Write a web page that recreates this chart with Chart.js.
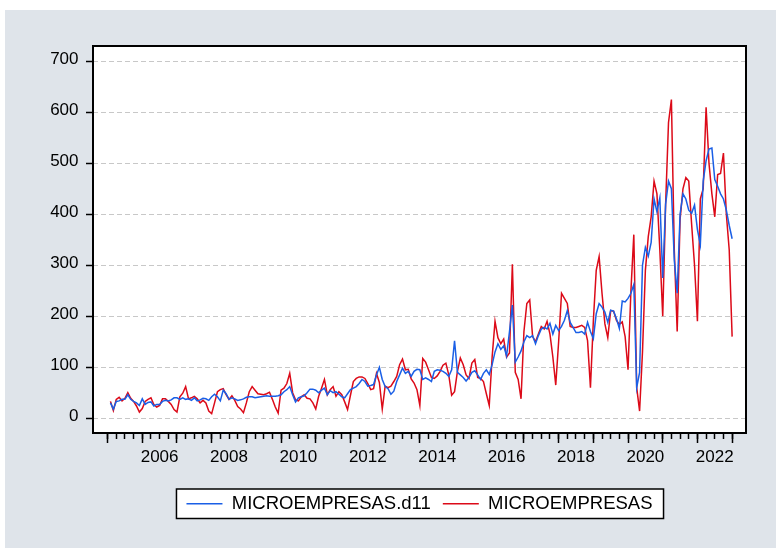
<!DOCTYPE html>
<html>
<head>
<meta charset="utf-8">
<script src="https://cdn.jsdelivr.net/npm/chart.js@4.4.1/dist/chart.umd.min.js"></script>
<style>
  html, body { margin: 0; padding: 0; background: #ffffff; }
  canvas { display: block; }
</style>
</head>
<body>
<canvas id="grafico" width="776" height="548"></canvas>
<script>
// serie mensual 2005M01 .. 2022M12
const startYear = 2005;
const yearLabels = ['2006', '2008', '2010', '2012', '2014', '2016', '2018', '2020', '2022'];
const yTicks = [0, 100, 200, 300, 400, 500, 600, 700];

// MICROEMPRESAS.d11 (desestacionalizada)
const microD11 = [
  30, 18, 33, 34, 37, 37, 46, 37, 33, 30, 25, 38,
  27, 31, 32, 24, 27, 27, 33, 35, 34, 36, 40, 40,
  37, 40, 37, 38, 35, 40, 34, 36, 39, 38, 35, 42,
  47, 42, 34, 55, 48, 37, 40, 38, 35, 36, 38, 41,
  42, 42, 40, 41, 42, 43, 44, 43, 43, 43, 44, 46,
  52, 56, 62, 46, 32, 40, 42, 44, 50, 57, 57, 55,
  50, 55, 59, 46, 54, 50, 52, 47, 42, 40, 48, 56,
  59, 62, 68, 76, 72, 63, 64, 66, 85, 100, 76, 62,
  58, 47, 53, 72, 85, 98, 88, 92, 82, 92, 96, 95,
  76, 79, 76, 72, 92, 95, 94, 92, 88, 82, 95, 152,
  90, 85, 80, 73, 80, 90, 93, 85, 76, 88, 95, 86,
  105, 130, 146, 135, 142, 122, 170, 222, 110, 120, 132, 150,
  162, 158, 162, 146, 162, 175, 178, 175, 186, 165, 182, 172,
  180, 192, 211, 188, 178, 168, 168, 170, 165, 188, 170, 156,
  205, 225, 218, 208, 188, 212, 210, 195, 176, 230, 228, 235,
  245, 262, 60, 90, 300, 335, 318, 345, 430, 405, 432, 275,
  420, 465, 450, 310, 245, 400, 440, 430, 408, 402, 418, 370,
  340, 465, 505, 528, 530, 468, 455, 440, 430, 408, 378, 352
];

// MICROEMPRESAS (original)
const micro = [
  33, 15, 37, 41, 34, 39, 50, 39, 33, 24, 12, 19,
  33, 37, 40, 27, 22, 25, 38, 38, 33, 27, 17, 12,
  42, 49, 62, 38, 40, 43, 38, 30, 35, 30, 14, 9,
  30, 52, 56, 58, 46, 37, 44, 35, 23, 18, 11, 30,
  52, 62, 55, 48, 47, 46, 48, 51, 37, 22, 10, 55,
  59, 68, 88, 50, 36, 34, 42, 46, 39, 38, 30, 18,
  43, 59, 76, 46, 56, 62, 43, 52, 46, 32, 17, 45,
  72, 78, 81, 81, 78, 68, 56, 58, 88, 70, 18, 63,
  60, 63, 72, 82, 105, 116, 95, 96, 77, 69, 56, 25,
  117, 110, 95, 80, 78, 83, 92, 104, 108, 85, 45, 52,
  92, 118, 105, 85, 78, 108, 115, 80, 78, 72, 48, 25,
  120, 190, 158, 146, 155, 120, 128, 302, 90, 76, 38, 170,
  225, 232, 160, 150, 165, 180, 175, 190, 165, 120, 65, 150,
  245, 235, 225, 180, 178, 178, 180, 182, 178, 152, 60, 190,
  290, 317, 245, 185, 158, 211, 210, 192, 184, 189, 160, 95,
  250, 360, 60, 14, 130, 290, 356, 395, 465, 440, 330, 200,
  420, 580, 625, 330, 170, 390, 450, 472, 465, 380, 300, 190,
  430, 450, 610, 500, 440, 395, 478, 480, 520, 400, 330, 160
];

// each month is drawn at the end of its period (EViews style)
const fechas = micro.map((_, i) => startYear + (i + 1) / 12);
const lastYear = startYear + micro.length / 12;

const xMin = 2004.58, xMax = 2023.40;
const yMin = -29, yMax = 730;
const fuente = 'Liberation Sans, Arial, sans-serif';

function serie(valores) {
  return valores.map((v, i) => ({ x: fechas[i], y: v }));
}

// fondo gris, area blanca, marco y recuadro de la leyenda
const marco = {
  id: 'marco',
  beforeDraw(chart) {
    const { ctx, chartArea: a } = chart;
    ctx.save();
    ctx.fillStyle = '#ffffff';
    ctx.fillRect(0, 0, chart.width, chart.height);
    ctx.fillStyle = '#dfe4ea';
    ctx.fillRect(5, 10, chart.width - 5, chart.height - 10);
    ctx.fillStyle = '#ffffff';
    ctx.fillRect(a.left, a.top, a.right - a.left, a.bottom - a.top);
    const hb = chart.legend.legendHitBoxes;
    if (hb && hb.length) {
      const b = cajaLeyenda(hb);
      ctx.fillRect(b.x1, b.y1, b.x2 - b.x1, b.y2 - b.y1);
    }
    ctx.restore();
  },
  afterDraw(chart) {
    const { ctx, chartArea: a } = chart;
    ctx.save();
    ctx.strokeStyle = '#000000';
    ctx.lineWidth = 2;
    ctx.strokeRect(a.left, a.top, a.right - a.left, a.bottom - a.top);
    const hb = chart.legend.legendHitBoxes;
    if (hb && hb.length) {
      const b = cajaLeyenda(hb);
      ctx.lineWidth = 1.5;
      ctx.strokeRect(b.x1, b.y1, b.x2 - b.x1, b.y2 - b.y1);
    }
    ctx.restore();
  }
};

function cajaLeyenda(hb) {
  const last = hb[hb.length - 1];
  return {
    x1: hb[0].left - 10,
    x2: last.left + last.width + 11,
    y1: hb[0].top - 5.5,
    y2: hb[0].top + hb[0].height + 5.5
  };
}

const ctx = document.getElementById('grafico').getContext('2d');
const grafico = new Chart(ctx, {
  type: 'line',
  data: {
    datasets: [
      {
        label: 'MICROEMPRESAS.d11',
        data: serie(microD11),
        borderColor: '#1a5fe6',
        backgroundColor: '#1a5fe6',
        borderWidth: 1.5,
        pointRadius: 0,
        tension: 0
      },
      {
        label: 'MICROEMPRESAS',
        data: serie(micro),
        borderColor: '#dc0a18',
        backgroundColor: '#dc0a18',
        borderWidth: 1.5,
        pointRadius: 0,
        tension: 0
      }
    ]
  },
  options: {
    responsive: false,
    animation: false,
    events: [],
    layout: {
      padding: { left: 0, top: 46, right: 30, bottom: 25 }
    },
    scales: {
      y: {
        type: 'linear',
        min: yMin,
        max: yMax,
        afterBuildTicks: (s) => { s.ticks = yTicks.map(v => ({ value: v })); },
        afterFit: (s) => { s.width = 93; },
        border: { display: false, dash: [5, 3] },
        grid: {
          color: '#c8c8c8',
          lineWidth: 1,
          tickColor: '#000000',
          tickLength: 7,
          tickWidth: 1.5
        },
        ticks: {
          color: '#000000',
          padding: 7.5,
          labelOffset: -2,
          font: { family: fuente, size: 17 }
        }
      },
      // marcas trimestrales
      xq: {
        type: 'linear',
        position: 'bottom',
        weight: 0,
        min: xMin,
        max: xMax,
        afterBuildTicks: (s) => {
          const t = [];
          for (let q = 0; q <= (lastYear - startYear) * 4; q++) t.push({ value: startYear + q / 4 });
          s.ticks = t;
        },
        afterFit: (s) => { s.height = 0; },
        border: { display: false },
        grid: { drawOnChartArea: false, tickLength: 6, tickColor: '#000000', tickWidth: 1.5 },
        ticks: { display: false }
      },
      // marcas anuales
      xa: {
        type: 'linear',
        position: 'bottom',
        weight: 1,
        min: xMin,
        max: xMax,
        afterBuildTicks: (s) => {
          const t = [];
          for (let y = startYear; y <= lastYear; y++) t.push({ value: y });
          s.ticks = t;
        },
        afterFit: (s) => { s.height = 0; },
        border: { display: false },
        grid: { drawOnChartArea: false, tickLength: 10, tickColor: '#000000', tickWidth: 1.5 },
        ticks: { display: false }
      },
      // etiquetas de los años, centradas en el año
      x: {
        type: 'linear',
        position: 'bottom',
        weight: 2,
        min: xMin,
        max: xMax,
        afterBuildTicks: (s) => { s.ticks = yearLabels.map(y => ({ value: Number(y) + 0.5 })); },
        afterFit: (s) => { s.height = 49.5; },
        border: { display: false },
        grid: { display: false, drawTicks: false },
        ticks: {
          color: '#000000',
          padding: 14,
          maxRotation: 0,
          autoSkip: false,
          font: { family: fuente, size: 17 },
          callback: (v) => String(Math.round(v - 0.5))
        }
      }
    },
    plugins: {
      title: { display: false },
      tooltip: { enabled: false },
      legend: {
        position: 'bottom',
        fullSize: false,
        labels: {
          color: '#000000',
          boxWidth: 36,
          boxHeight: 0,
          padding: 12,
          font: { family: fuente, size: 18.5 }
        }
      }
    }
  },
  plugins: [marco]
});
</script>
</body>
</html>
